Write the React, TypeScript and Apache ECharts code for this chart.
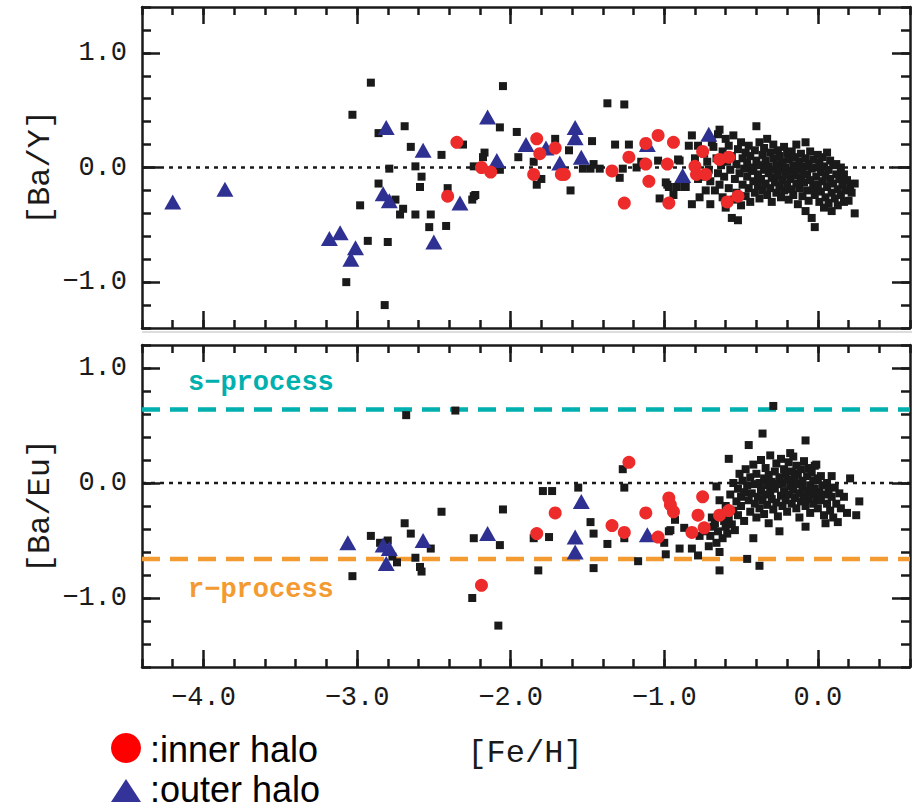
import React, { useEffect, useRef } from "react";
import * as echarts from "echarts";

// ---------- data ----------
const xRange = [-4.4, 0.6];
const topYRange = [-1.4, 1.4];
const botYRange = [-1.6, 1.2];
const xMajor = [-4, -3, -2, -1, 0];
const yMajor = [-1, 0, 1];
const sProcessLevel = 0.64;
const rProcessLevel = -0.66;

// [Ba/Y] panel
const topSquaresSparse = [
  [-2.91,0.74],[-3.03,0.46],[-2.69,0.36],[-2.86,0.30],[-2.65,0.18],[-2.45,0.11],[-2.79,-0.01],[-2.62,0.01],
  [-2.58,-0.08],[-2.86,-0.14],[-2.59,-0.17],[-2.41,-0.18],[-2.98,-0.33],[-2.70,-0.36],[-2.72,-0.41],[-2.62,-0.41],
  [-2.52,-0.41],[-2.53,-0.52],[-2.42,-0.51],[-2.93,-0.64],[-2.80,-0.65],[-3.07,-1.00],[-2.82,-1.20],[-2.05,0.71],
  [-2.07,0.35],[-1.96,0.31],[-2.31,0.20],[-2.17,0.13],[-1.95,0.09],[-2.24,0.01],[-2.07,-0.02],[-1.85,0.05],
  [-1.83,-0.15],[-1.80,-0.10],[-2.23,-0.24],[-2.25,-0.28],[-2.75,-0.28],[-1.37,0.56],[-1.26,0.55],[-2.18,0.09],
  [-1.71,0.25],[-1.62,0.15],[-1.61,-0.20],[-1.47,0.23],[-1.46,0.03],[-1.48,-0.01],[-1.32,0.20],[-1.23,0.20],
  [-1.27,-0.01],[-1.29,-0.09],[-1.03,-0.27],[-0.98,-0.15],[-0.94,-0.24],[-0.90,0.06],[-0.86,-0.17],[-0.82,0.28],
  [-0.84,0.19],[-0.82,-0.32],[-0.77,-0.26],[-0.70,-0.32],[-2.24,-0.25],[-1.53,-0.01],[-1.42,-0.01],[-1.18,0.00],
  [-1.04,0.06],[-0.91,0.07],[-0.99,-0.13],[-0.97,-0.17],[-0.92,-0.17],[-0.87,-0.17],[-0.78,0.19],[-0.65,0.29],
  [-0.80,0.08],[-0.78,-0.10],[-1.15,0.05],
];
const topSquaresCluster = [
  [-0.74,0.12],[-0.72,0.05],[-0.71,-0.02],[-0.70,-0.12],[-0.69,0.22],[-0.68,0.18],[-0.67,-0.20],[-0.66,0.08],
  [-0.65,-0.05],[-0.64,0.33],[-0.64,-0.15],[-0.63,0.02],[-0.62,-0.26],[-0.62,0.14],[-0.61,-0.08],[-0.60,0.25],
  [-0.60,-0.35],[-0.59,0.05],[-0.58,-0.18],[-0.58,0.19],[-0.57,-0.02],[-0.56,-0.44],[-0.56,0.10],[-0.55,-0.28],
  [-0.55,0.28],[-0.54,-0.10],[-0.53,0.03],[-0.53,-0.22],[-0.52,-0.46],[-0.52,0.16],[-0.51,-0.05],[-0.50,0.22],
  [-0.50,-0.33],[-0.49,0.08],[-0.49,-0.15],[-0.48,-0.01],[-0.47,0.13],[-0.47,-0.25],[-0.46,0.04],[-0.46,-0.08],
  [-0.45,0.19],[-0.45,-0.18],[-0.44,-0.30],[-0.44,0.10],[-0.43,-0.03],[-0.42,0.00],[-0.42,-0.12],[-0.41,0.15],
  [-0.41,-0.22],[-0.40,0.36],[-0.40,0.06],[-0.39,-0.06],[-0.39,-0.16],[-0.38,0.22],[-0.38,-0.27],[-0.37,0.02],
  [-0.37,-0.10],[-0.36,0.11],[-0.36,-0.20],[-0.35,-0.02],[-0.35,0.17],[-0.34,-0.14],[-0.34,0.06],[-0.33,-0.24],
  [-0.33,0.25],[-0.32,-0.05],[-0.32,0.01],[-0.31,0.13],[-0.31,-0.18],[-0.30,-0.09],[-0.30,-0.30],[-0.29,0.08],
  [-0.29,0.20],[-0.28,-0.02],[-0.28,-0.13],[-0.27,0.03],[-0.27,-0.22],[-0.26,0.15],[-0.26,-0.07],[-0.25,-0.16],
  [-0.25,0.10],[-0.24,-0.01],[-0.24,-0.26],[-0.23,0.05],[-0.23,-0.11],[-0.22,0.18],[-0.22,-0.20],[-0.21,0.00],
  [-0.21,-0.06],[-0.20,0.12],[-0.20,-0.15],[-0.19,-0.28],[-0.19,0.07],[-0.18,-0.03],[-0.18,-0.10],[-0.17,0.14],
  [-0.17,-0.19],[-0.16,0.02],[-0.16,-0.24],[-0.15,-0.07],[-0.15,0.09],[-0.14,-0.14],[-0.14,0.20],[-0.13,-0.01],
  [-0.13,-0.32],[-0.12,0.05],[-0.12,-0.18],[-0.11,-0.09],[-0.11,0.12],[-0.10,-0.04],[-0.10,-0.25],[-0.09,0.01],
  [-0.09,-0.13],[-0.08,0.22],[-0.08,0.08],[-0.08,-0.38],[-0.07,-0.20],[-0.07,-0.06],[-0.06,0.03],[-0.06,-0.29],
  [-0.05,0.14],[-0.05,-0.11],[-0.04,-0.44],[-0.04,-0.01],[-0.03,-0.17],[-0.03,0.07],[-0.02,-0.52],[-0.02,-0.24],
  [-0.01,0.00],[-0.01,-0.08],[0.00,0.11],[0.00,-0.15],[0.01,-0.30],[0.01,0.04],[0.02,-0.04],[0.02,-0.21],
  [0.03,0.09],[0.03,-0.12],[0.04,-0.35],[0.04,0.01],[0.05,-0.07],[0.05,-0.26],[0.06,0.13],[0.06,-0.17],
  [0.07,-0.02],[0.07,-0.31],[0.08,0.06],[0.08,-0.10],[0.09,-0.22],[0.09,-0.38],[0.10,0.02],[0.10,-0.14],
  [0.11,-0.27],[0.12,0.03],[0.12,-0.06],[0.13,-0.19],[0.13,-0.33],[0.14,-0.10],[0.15,-0.24],[0.15,0.00],
  [0.16,-0.15],[0.17,-0.06],[0.17,-0.30],[0.18,-0.20],[0.19,-0.11],[0.20,-0.29],[0.21,-0.17],[0.22,-0.22],
  [0.24,-0.14],[0.24,-0.40],[-0.73,-0.20],[-0.76,-0.08],
];
const topInnerHalo = [
  [-2.35,0.22],[-2.41,-0.25],[-2.19,0.00],[-2.13,-0.04],[-1.83,0.25],[-1.81,0.12],[-1.71,0.17],[-1.85,-0.06],
  [-1.67,-0.06],[-1.65,-0.06],[-1.34,-0.03],[-1.23,0.09],[-1.26,-0.31],[-1.12,0.21],[-1.04,0.28],[-0.94,0.22],
  [-1.12,0.03],[-1.10,-0.12],[-0.98,0.03],[-0.97,-0.31],[-0.75,0.14],[-0.80,0.01],[-0.79,-0.06],[-0.73,-0.06],
  [-0.64,0.07],[-0.58,0.09],[-0.59,-0.30],[-0.52,-0.25],
];
const topOuterHalo = [
  [-4.20,-0.30],[-3.86,-0.19],[-3.18,-0.62],[-3.11,-0.57],[-3.01,-0.70],[-3.04,-0.80],[-2.81,0.35],[-2.83,-0.23],
  [-2.79,-0.29],[-2.57,0.15],[-2.50,-0.65],[-2.33,-0.31],[-2.15,0.44],[-2.09,0.06],[-1.90,0.20],[-1.77,0.17],
  [-1.68,0.04],[-1.58,0.35],[-1.58,0.26],[-1.54,0.09],[-1.11,0.20],[-0.88,-0.07],[-0.71,0.29],
];

// [Ba/Eu] panel
const botSquaresSparse = [
  [-2.68,0.59],[-2.36,0.63],[-2.45,-0.25],[-2.69,-0.35],[-2.65,-0.44],[-2.91,-0.46],[-2.85,-0.52],[-2.80,-0.50],
  [-2.52,-0.57],[-2.62,-0.65],[-2.77,-0.64],[-2.74,-0.69],[-2.59,-0.73],[-2.58,-0.77],[-3.03,-0.81],[-2.05,-0.23],
  [-2.24,-0.48],[-2.07,-0.54],[-2.25,-1.00],[-2.08,-1.24],[-1.79,-0.07],[-1.73,-0.07],[-1.56,-0.04],[-1.75,-0.47],
  [-1.85,-0.48],[-1.82,-0.76],[-1.48,-0.34],[-1.46,-0.44],[-1.46,-0.74],[-1.37,-0.53],[-1.27,0.12],[-1.26,-0.04],
  [-1.26,-0.48],[-1.17,-0.68],[-0.97,-0.42],[-1.00,-0.52],[-0.99,-0.62],[-0.90,-0.57],[-0.93,-0.32],[-0.82,-0.57],
  [-0.78,-0.63],[-0.77,-0.46],[-0.71,-0.55],[-0.64,-0.76],[-0.46,-0.66],[-0.38,-0.72],[-0.29,0.67],[-0.36,0.43],
  [-0.45,0.33],[-0.08,0.37],[-0.58,0.21],[0.27,-0.16],[0.25,-0.28],[0.21,0.04],[0.09,0.06],[-0.01,0.16],
  [0.13,-0.34],[0.05,-0.35],[-0.08,-0.38],[-0.25,-0.42],[-0.42,-0.48],[-0.87,-0.39],[-0.96,-0.41],[-0.74,-0.42],
];
const botSquaresCluster = [
  [-0.70,-0.46],[-0.69,-0.30],[-0.68,-0.38],[-0.67,-0.35],[-0.66,-0.03],[-0.66,-0.52],[-0.65,-0.42],[-0.64,-0.15],
  [-0.64,-0.60],[-0.63,-0.27],[-0.62,-0.48],[-0.61,-0.33],[-0.60,-0.38],[-0.60,-0.20],[-0.59,-0.44],[-0.58,-0.30],
  [-0.57,-0.10],[-0.56,-0.36],[-0.55,-0.24],[-0.55,0.00],[-0.54,-0.41],[-0.53,-0.16],[-0.52,-0.05],[-0.52,-0.28],
  [-0.51,0.08],[-0.50,-0.20],[-0.50,-0.12],[-0.49,0.02],[-0.48,-0.33],[-0.48,-0.08],[-0.47,0.12],[-0.46,-0.02],
  [-0.45,-0.15],[-0.44,-0.25],[-0.44,0.05],[-0.43,-0.09],[-0.42,0.16],[-0.41,-0.18],[-0.41,-0.01],[-0.40,-0.30],
  [-0.40,0.08],[-0.39,-0.12],[-0.38,0.00],[-0.38,-0.22],[-0.37,0.20],[-0.37,-0.06],[-0.36,-0.15],[-0.35,0.04],
  [-0.35,-0.27],[-0.34,-0.10],[-0.34,0.13],[-0.33,-0.02],[-0.33,-0.19],[-0.32,0.07],[-0.32,-0.35],[-0.31,-0.08],
  [-0.31,0.24],[-0.30,-0.14],[-0.30,0.01],[-0.29,-0.23],[-0.28,0.10],[-0.28,-0.05],[-0.27,-0.17],[-0.27,0.17],
  [-0.26,-0.01],[-0.26,-0.29],[-0.25,0.05],[-0.24,-0.11],[-0.24,0.21],[-0.23,-0.20],[-0.23,0.00],[-0.22,0.12],
  [-0.22,-0.07],[-0.21,-0.15],[-0.21,0.08],[-0.20,-0.25],[-0.20,0.03],[-0.19,0.18],[-0.19,-0.10],[-0.18,-0.03],
  [-0.18,0.26],[-0.17,-0.18],[-0.17,0.10],[-0.16,0.23],[-0.16,-0.06],[-0.15,-0.13],[-0.15,0.04],[-0.14,0.15],
  [-0.14,-0.22],[-0.13,-0.01],[-0.13,0.08],[-0.12,-0.09],[-0.12,-0.30],[-0.11,0.12],[-0.11,-0.16],[-0.10,0.02],
  [-0.10,-0.04],[-0.09,0.19],[-0.09,-0.12],[-0.08,-0.20],[-0.07,0.06],[-0.07,-0.07],[-0.06,-0.14],[-0.06,0.13],
  [-0.05,-0.02],[-0.05,-0.26],[-0.04,0.09],[-0.04,-0.10],[-0.03,-0.18],[-0.03,0.02],[-0.02,0.15],[-0.02,-0.05],
  [-0.01,-0.12],[0.00,-0.22],[0.00,0.04],[0.01,-0.08],[0.02,-0.15],[0.02,0.06],[0.03,-0.02],[0.04,-0.28],
  [0.04,-0.10],[0.06,0.00],[0.06,-0.18],[0.07,-0.06],[0.08,-0.24],[0.09,-0.12],[0.10,-0.30],[0.11,-0.04],
  [0.12,-0.18],[0.14,-0.09],[0.15,-0.22],[0.17,-0.12],[0.19,-0.26],
];
const botInnerHalo = [
  [-1.23,0.18],[-1.71,-0.26],[-1.83,-0.44],[-1.34,-0.37],[-1.26,-0.43],[-1.12,-0.26],[-2.19,-0.89],[-1.04,-0.47],
  [-0.97,-0.13],[-0.96,-0.19],[-0.94,-0.25],[-0.78,-0.28],[-0.75,-0.12],[-0.74,-0.39],[-0.82,-0.43],[-0.64,-0.28],
  [-0.58,-0.24],
];
const botOuterHalo = [
  [-3.06,-0.52],[-2.83,-0.54],[-2.79,-0.57],[-2.81,-0.70],[-2.57,-0.50],[-2.15,-0.44],[-1.54,-0.16],[-1.58,-0.47],
  [-1.58,-0.60],[-1.11,-0.45],
];

// ---------- styling ----------
const INK = "#1a1a1a";
const RED = "#ee2b2b";
const BLUE = "#2e3192";
const TEAL = "#00b0ae";
const ORANGE = "#f39a30";
const MONO = "'Liberation Mono', 'DejaVu Sans Mono', monospace";

const fmt = (v: number) => {
  if (Math.abs(v - Math.round(v)) > 1e-6) return "";
  const r = Math.round(v);
  return (r < 0 ? "\u2212" : "") + Math.abs(r).toFixed(1);
};

const GRIDS = [
  { left: 142, top: 7, width: 768, height: 321 },
  { left: 142, top: 345, width: 768, height: 322 },
];

const frameStyle = { color: INK, width: 2.5 };
const tickStyle = { color: INK, width: 2.5 };

function xAxesFor(g: number) {
  const base = {
    gridIndex: g,
    type: "value",
    min: xRange[0],
    max: xRange[1],
    interval: 0.2,
    splitLine: { show: false },
  };
  return [
    {
      ...base,
      position: "bottom",
      axisLine: { show: true, onZero: false, lineStyle: frameStyle },
      axisTick: { show: true, inside: true, length: 8, lineStyle: tickStyle },
      axisLabel: {
        show: g === 1,
        formatter: fmt,
        margin: 17,
        color: INK,
        fontSize: 27,
        fontFamily: MONO,
      },
    },
    {
      ...base,
      position: "top",
      axisLine: { show: true, onZero: false, lineStyle: frameStyle },
      axisTick: { show: true, inside: true, length: 8, lineStyle: tickStyle },
      axisLabel: { show: false },
    },
    {
      ...base,
      position: "bottom",
      axisLine: { show: false, onZero: false },
      axisTick: { show: true, inside: true, length: 17, lineStyle: tickStyle, customValues: xMajor },
      axisLabel: { show: false },
    },
    {
      ...base,
      position: "top",
      axisLine: { show: false, onZero: false },
      axisTick: { show: true, inside: true, length: 17, lineStyle: tickStyle, customValues: xMajor },
      axisLabel: { show: false },
    },
  ];
}

function yAxesFor(g: number, range: number[]) {
  const base = {
    gridIndex: g,
    type: "value",
    min: range[0],
    max: range[1],
    interval: 0.2,
    splitLine: { show: false },
  };
  return [
    {
      ...base,
      position: "left",
      axisLine: { show: true, onZero: false, lineStyle: frameStyle },
      axisTick: { show: true, inside: true, length: 9, lineStyle: tickStyle },
      axisLabel: {
        show: true,
        formatter: fmt,
        margin: 15,
        color: INK,
        fontSize: 27,
        fontFamily: MONO,
      },
    },
    {
      ...base,
      position: "right",
      axisLine: { show: true, onZero: false, lineStyle: frameStyle },
      axisTick: { show: true, inside: true, length: 9, lineStyle: tickStyle },
      axisLabel: { show: false },
    },
    {
      ...base,
      position: "left",
      axisLine: { show: false, onZero: false },
      axisTick: { show: true, inside: true, length: 18, lineStyle: tickStyle, customValues: yMajor },
      axisLabel: { show: false },
    },
    {
      ...base,
      position: "right",
      axisLine: { show: false, onZero: false },
      axisTick: { show: true, inside: true, length: 18, lineStyle: tickStyle, customValues: yMajor },
      axisLabel: { show: false },
    },
  ];
}

function panelSeries(
  g: number,
  squares: number[][],
  inner: number[][],
  outer: number[][]
) {
  const xi = g * 4;
  const yi = g * 4;
  return [
    {
      type: "line",
      xAxisIndex: xi,
      yAxisIndex: yi,
      data: [
        [xRange[0], 0],
        [xRange[1], 0],
      ],
      symbol: "none",
      lineStyle: { color: INK, width: 2.5, type: [4, 5] },
      z: 1,
      silent: true,
    },
    {
      type: "scatter",
      xAxisIndex: xi,
      yAxisIndex: yi,
      data: squares,
      symbol: "rect",
      symbolSize: 8,
      itemStyle: { color: INK, opacity: 1 },
      z: 3,
    },
    {
      type: "scatter",
      xAxisIndex: xi,
      yAxisIndex: yi,
      data: outer,
      symbol: "triangle",
      symbolSize: [17, 15],
      itemStyle: { color: BLUE, opacity: 1 },
      z: 4,
    },
    {
      type: "scatter",
      xAxisIndex: xi,
      yAxisIndex: yi,
      data: inner,
      symbol: "circle",
      symbolSize: 13,
      itemStyle: { color: RED, opacity: 1 },
      z: 5,
    },
  ];
}

function levelLine(level: number, color: string) {
  return {
    type: "line",
    xAxisIndex: 4,
    yAxisIndex: 4,
    data: [
      [xRange[0], level],
      [xRange[1], level],
    ],
    symbol: "none",
    lineStyle: { color, width: 4.5, type: [18, 10] },
    z: 2,
    silent: true,
  };
}

export default function App() {
  const ref = useRef<HTMLDivElement>(null);

  useEffect(() => {
    document.body.style.margin = "0";
    if (!ref.current) return;
    const chart = echarts.init(ref.current, undefined, { renderer: "svg" });

    const option: any = {
      animation: false,
      backgroundColor: "#ffffff",
      grid: GRIDS.map((g) => ({ ...g, show: false, containLabel: false })),
      xAxis: [...xAxesFor(0), ...xAxesFor(1)],
      yAxis: [...yAxesFor(0, topYRange), ...yAxesFor(1, botYRange)],
      series: [
        ...panelSeries(0, [...topSquaresSparse, ...topSquaresCluster], topInnerHalo, topOuterHalo),
        ...panelSeries(1, [...botSquaresSparse, ...botSquaresCluster], botInnerHalo, botOuterHalo),
        levelLine(sProcessLevel, TEAL),
        levelLine(rProcessLevel, ORANGE),
      ],
      graphic: [
        {
          type: "line",
          shape: { x1: 142, y1: 332, x2: 912, y2: 332 },
          style: { stroke: "#d2d2d2", lineWidth: 1.5 },
          silent: true,
        },
        {
          type: "text",
          x: 40,
          y: 167.5,
          rotation: Math.PI / 2,
          style: {
            text: "[Ba/Y]",
            fill: INK,
            font: `32px ${MONO}`,
            align: "center",
            verticalAlign: "middle",
          },
        },
        {
          type: "text",
          x: 40,
          y: 506,
          rotation: Math.PI / 2,
          style: {
            text: "[Ba/Eu]",
            fill: INK,
            font: `32px ${MONO}`,
            align: "center",
            verticalAlign: "middle",
          },
        },
        {
          type: "text",
          x: 525,
          y: 753,
          style: {
            text: "[Fe/H]",
            fill: INK,
            font: `32px ${MONO}`,
            align: "center",
            verticalAlign: "middle",
          },
        },
        {
          type: "text",
          x: 188,
          y: 383,
          style: {
            text: "s\u2212process",
            fill: TEAL,
            font: `bold 27px ${MONO}`,
            align: "left",
            verticalAlign: "middle",
          },
        },
        {
          type: "text",
          x: 188,
          y: 590,
          style: {
            text: "r\u2212process",
            fill: ORANGE,
            font: `bold 27px ${MONO}`,
            align: "left",
            verticalAlign: "middle",
          },
        },
        {
          type: "circle",
          shape: { cx: 126, cy: 748, r: 15 },
          style: { fill: "#ff0000" },
        },
        {
          type: "polygon",
          shape: {
            points: [
              [111, 802],
              [141, 802],
              [126, 779],
            ],
          },
          style: { fill: "#333399" },
        },
        {
          type: "text",
          x: 150,
          y: 749,
          style: {
            text: ":inner halo",
            fill: "#000000",
            font: "36px 'Liberation Sans', Arial, sans-serif",
            align: "left",
            verticalAlign: "middle",
          },
        },
        {
          type: "text",
          x: 150,
          y: 789,
          style: {
            text: ":outer halo",
            fill: "#000000",
            font: "36px 'Liberation Sans', Arial, sans-serif",
            align: "left",
            verticalAlign: "middle",
          },
        },
      ],
    };

    chart.setOption(option);
    return () => chart.dispose();
  }, []);

  return <div ref={ref} style={{ width: 918, height: 809 }} />;
}
